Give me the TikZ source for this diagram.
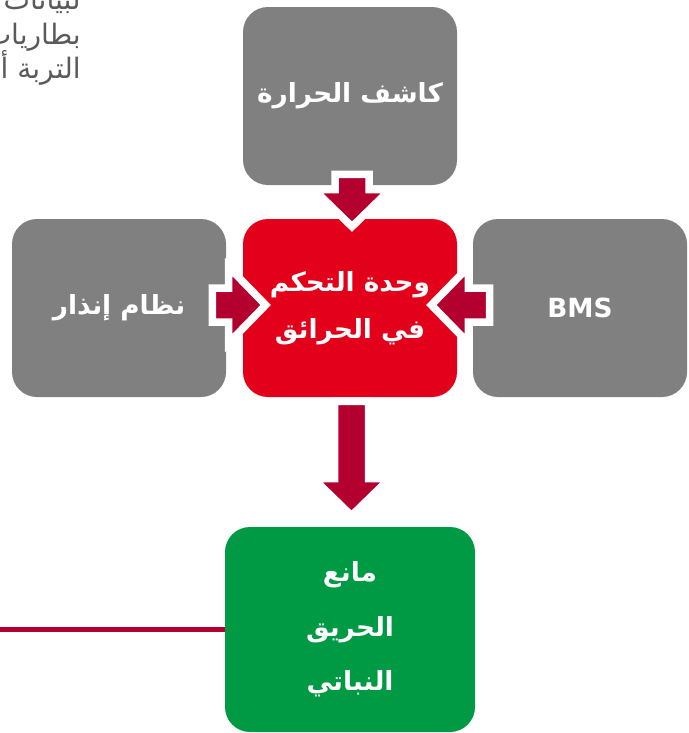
\documentclass[tikz,border=0pt]{standalone}
\usepackage{fontspec}
\newfontfamily\arabicfont[Script=Arabic]{DejaVu Sans}
\TeXXeTstate=1
\usetikzlibrary{calc, shadows}

\definecolor{boxgray}{HTML}{808080}
\definecolor{ctrlred}{HTML}{E2001A}
\definecolor{plantgreen}{HTML}{009A44}
\definecolor{arrowred}{HTML}{B4002F}
\definecolor{notegray}{HTML}{5A5A5A}

\tikzstyle{unit} = [rectangle, rounded corners=0.5cm, minimum width=4.28cm, minimum height=3.56cm, text centered, align=center, text=white, inner sep=0pt, font=\arabicfont\bfseries\fontsize{15}{27}\selectfont]
\tikzstyle{sensor} = [unit, fill=boxgray]
\tikzstyle{control} = [unit, fill=ctrlred]
\tikzstyle{suppress} = [unit, fill=plantgreen, minimum width=5cm, minimum height=4.1cm, font=\arabicfont\bfseries\fontsize{15}{31}\selectfont]
\tikzstyle{blockarrow} = [fill=arrowred, draw=white, line width=0.15cm, line join=miter, drop shadow={opacity=0.22, shadow xshift=0.05cm, shadow yshift=-0.05cm}]
\tikzstyle{wire} = [draw=arrowred, line width=0.09cm]
\tikzstyle{note} = [anchor=base east, inner sep=0pt, text=notegray, font=\arabicfont\fontsize{16}{19}\selectfont]

% block arrow from #1 to #2
\newcommand{\blockarrow}[2]{%
  \draw[blockarrow] let \p1=(#1), \p2=(#2),
    \n1={atan2(\y2-\y1,\x2-\x1)}, \n2={veclen(\x2-\x1,\y2-\y1)} in
    [shift={(\p1)}, rotate=\n1]
    (0cm,-0.34cm) -- ({\n2*1pt-0.74cm},-0.34cm) -- ({\n2*1pt-0.74cm},-0.76cm)
    -- ({\n2*1pt},0cm) -- ({\n2*1pt-0.74cm},0.76cm) -- ({\n2*1pt-0.74cm},0.34cm)
    -- (0cm,0.34cm) -- cycle;}

\begin{document}
\begin{tikzpicture}

\clip (0,0) rectangle (13.76,-14.66);

\node (note1) [note] at (1.62,-0.18) {\beginR لبيانات\endR};
\node (note2) [note] at (1.62,-0.88) {\beginR بطاريات\endR};
\node (note3) [note] at (1.62,-1.56) {\beginR التربة أو\endR};

\node (hot) [sensor] at (7.00,-1.92) {\beginR كاشف الحرارة\endR};
\node (ctrl) [control] at (7.00,-6.16) {\beginR وحدة التحكم\endR\\\beginR في الحرائق\endR};
\node (alarm) [sensor] at (2.38,-6.16) {\beginR نظام إنذار\endR};
\node (bms) [sensor] at (11.60,-6.16) {BMS};
\node (plant) [suppress] at (7.00,-12.59) {\beginR مانع\endR\\\beginR الحريق\endR\\\beginR النباتي\endR};

\coordinate (wireend) at (0,-12.58);
\draw [wire] (plant.west) -- (plant.west -| wireend);

\blockarrow{$(hot.south)+(0.04,0.22)$}{$(ctrl.north)+(0.04,-0.16)$}
\blockarrow{$(alarm.east)+(-0.28,0.06)$}{$(ctrl.west)+(0.46,0.06)$}
\blockarrow{$(bms.west)+(0.34,0.06)$}{$(ctrl.east)+(-0.52,0.06)$}
\blockarrow{$(ctrl.south)+(0.03,-0.08)$}{$(plant.north)+(0.03,0.22)$}

\end{tikzpicture}
\end{document}
